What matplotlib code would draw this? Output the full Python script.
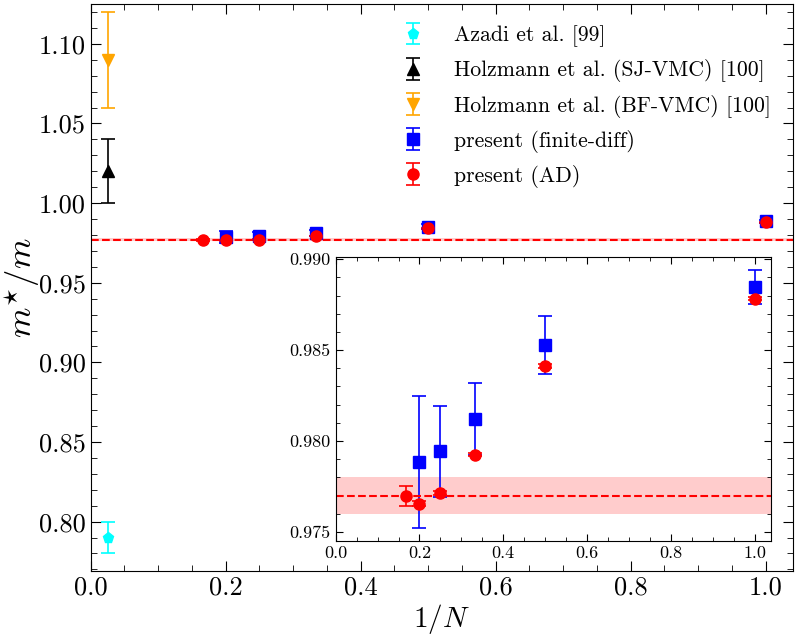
import matplotlib
matplotlib.use("Agg")
import matplotlib.pyplot as plt
from matplotlib.ticker import MultipleLocator

# Computer Modern look
plt.rcParams['font.family'] = 'serif'
plt.rcParams['font.serif'] = ['cmr10']
plt.rcParams['mathtext.fontset'] = 'cm'
plt.rcParams['axes.formatter.use_mathtext'] = True

# Data
x_ref = [0.025]
azadi_y = [0.790]
azadi_err = [0.010]
sj_y = [1.020]
sj_err = [0.020]
bf_y = [1.090]
bf_err = [0.030]

x_fd = [1/5, 1/4, 1/3, 1/2, 1.0]
fd_y = [0.97882, 0.97943, 0.98121, 0.98526, 0.98847]
fd_err = [0.00363, 0.00252, 0.00200, 0.00160, 0.00092]

x_ad = [1/6, 1/5, 1/4, 1/3, 1/2, 1.0]
ad_y = [0.97697, 0.97656, 0.97713, 0.97924, 0.98414, 0.98783]
ad_err = [0.00056, 0.00015, 0.00012, 0.00008, 0.00010, 0.00010]

extrap = 0.977
extrap_err = 0.001

fig = plt.figure(figsize=(7.97, 6.39), dpi=100)
ax = fig.add_axes([0.1138, 0.1064, 0.8808, 0.8873])

ax.errorbar(x_ref, azadi_y, yerr=azadi_err, fmt='p', color='cyan', ms=8,
            capsize=5, elinewidth=1.2, capthick=1.2, label='Azadi et al. [99]')
ax.errorbar(x_ref, sj_y, yerr=sj_err, fmt='^', color='black', ms=8,
            capsize=5, elinewidth=1.2, capthick=1.2,
            label='Holzmann et al. (SJ-VMC) [100]')
ax.errorbar(x_ref, bf_y, yerr=bf_err, fmt='v', color='orange', ms=8,
            capsize=5, elinewidth=1.2, capthick=1.2,
            label='Holzmann et al. (BF-VMC) [100]')
ax.errorbar(x_fd, fd_y, yerr=fd_err, fmt='s', color='blue', ms=8,
            capsize=5, elinewidth=1.2, capthick=1.2,
            label='present (finite-diff)')
ax.errorbar(x_ad, ad_y, yerr=ad_err, fmt='o', color='red', ms=8,
            capsize=5, elinewidth=1.2, capthick=1.2, label='present (AD)')

ax.axhline(extrap, color='red', ls='--', lw=1.5)
ax.axhspan(extrap - extrap_err, extrap + extrap_err, color='red', alpha=0.2, lw=0)

ax.set_xlim(0, 1.04)
ax.set_ylim(0.769, 1.125)
ax.xaxis.set_major_locator(MultipleLocator(0.2))
ax.xaxis.set_minor_locator(MultipleLocator(0.05))
ax.yaxis.set_major_locator(MultipleLocator(0.05))
ax.yaxis.set_minor_locator(MultipleLocator(0.01))
ax.xaxis.set_major_formatter(plt.FormatStrFormatter('%.1f'))
ax.yaxis.set_major_formatter(plt.FormatStrFormatter('%.2f'))
ax.tick_params(which='both', direction='in', top=True, right=True, labelsize=19)
ax.tick_params(which='major', length=7)
ax.tick_params(which='minor', length=4)
ax.set_xlabel(r'$1/N$', fontsize=21, labelpad=2)
ax.set_ylabel(r'$m^{\star}/m$', fontsize=25)
ax.yaxis.set_label_coords(-0.07, 0.5)

ax.legend(loc='upper right', frameon=False, fontsize=15.7, handletextpad=0.9,
          labelspacing=0.56, bbox_to_anchor=(0.9976, 0.997))

# Inset
axin = fig.add_axes([0.4212, 0.1534, 0.5466, 0.4439])
axin.errorbar(x_fd, fd_y, yerr=fd_err, fmt='s', color='blue', ms=8,
              capsize=5, elinewidth=1.2, capthick=1.2)
axin.errorbar(x_ad, ad_y, yerr=ad_err, fmt='o', color='red', ms=8,
              capsize=5, elinewidth=1.2, capthick=1.2)
axin.axhline(extrap, color='red', ls='--', lw=1.5)
axin.axhspan(extrap - extrap_err, extrap + extrap_err, color='red', alpha=0.2, lw=0)

axin.set_xlim(0, 1.04)
axin.set_ylim(0.9745, 0.9901)
axin.xaxis.set_major_locator(MultipleLocator(0.2))
axin.xaxis.set_minor_locator(MultipleLocator(0.05))
axin.yaxis.set_major_locator(MultipleLocator(0.005))
axin.yaxis.set_minor_locator(MultipleLocator(0.001))
axin.xaxis.set_major_formatter(plt.FormatStrFormatter('%.1f'))
axin.yaxis.set_major_formatter(plt.FormatStrFormatter('%.3f'))
axin.tick_params(which='both', direction='in', top=True, right=True, labelsize=13)
axin.tick_params(which='major', length=5)
axin.tick_params(which='minor', length=3)

fig.savefig('out.png', dpi=100)
